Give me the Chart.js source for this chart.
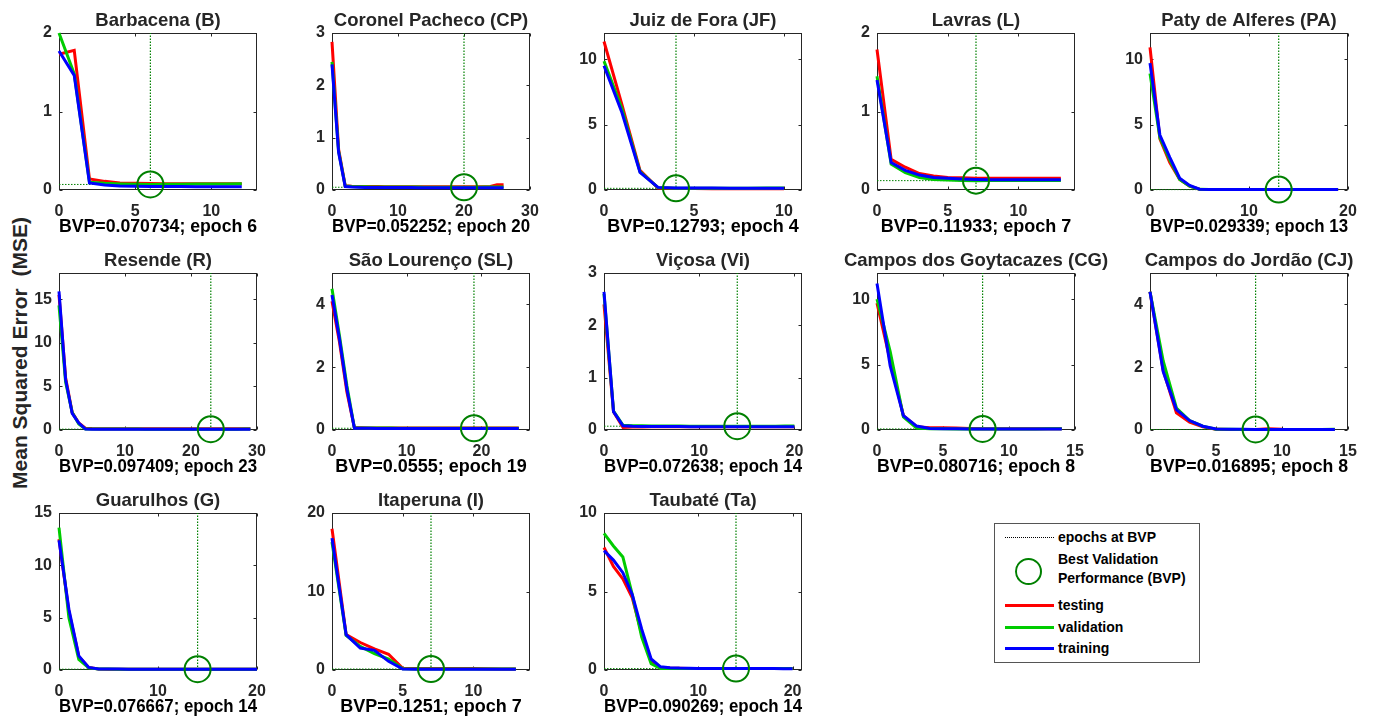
<!DOCTYPE html>
<html>
<head>
<meta charset="utf-8">
<script src="https://cdn.jsdelivr.net/npm/chart.js@4.4.1/dist/chart.umd.min.js"></script>
<style>
  body { margin: 0; width: 1373px; height: 723px; overflow: hidden; background: #fff;
         font-family: "Liberation Sans", Arial, sans-serif; font-weight: bold; position: relative; }
  canvas { position: absolute; }
  #ylab { position: absolute; left: -180px; top: 341px; width: 400px; text-align: center;
          font-size: 21px; color: #262626; transform: rotate(-90deg); white-space: pre; }
  #legend { position: absolute; left: 994px; top: 523px; width: 204px; height: 138px;
            border: 1px solid #555; background: #fff; }
  #legend .t { position: absolute; left: 63px; font-size: 14px; color: #000; line-height: 16px; white-space: nowrap; }
  #legend .ln { position: absolute; left: 10px; width: 49px; height: 0; }
  #legend .circ { position: absolute; left: 20px; top: 34px; width: 23px; height: 23px;
                  border: 2px solid #008000; border-radius: 50%; }
</style>
</head>
<body>
<div id="ylab">Mean Squared Error  (MSE)</div>
<div id="legend">
  <div class="ln" style="top:13px;border-top:1px dotted #000"></div>
  <div class="t" style="top:5px">epochs at BVP</div>
  <div class="circ"></div>
  <div class="t" style="top:27px">Best Validation</div>
  <div class="t" style="top:46px">Performance (BVP)</div>
  <div class="ln" style="top:80px;border-top:3px solid #ff0000"></div>
  <div class="t" style="top:73px">testing</div>
  <div class="ln" style="top:102px;border-top:3px solid #00cc00"></div>
  <div class="t" style="top:95px">validation</div>
  <div class="ln" style="top:123px;border-top:3px solid #0000ff"></div>
  <div class="t" style="top:116px">training</div>
</div>
<script>
// ---- data: MSE per epoch ----
const titles = ['Barbacena (B)', 'Coronel Pacheco (CP)', 'Juiz de Fora (JF)', 'Lavras (L)', 'Paty de Alferes (PA)',
  'Resende (R)', 'São Lourenço (SL)', 'Viçosa (Vi)', 'Campos dos Goytacazes (CG)', 'Campos do Jordão (CJ)',
  'Guarulhos (G)', 'Itaperuna (I)', 'Taubaté (Ta)'];
const bvpValues = [0.070734, 0.052252, 0.12793, 0.11933, 0.029339, 0.097409, 0.0555, 0.072638, 0.080716, 0.016895, 0.076667, 0.1251, 0.090269];
const bestEpochs = [6, 20, 4, 7, 13, 23, 19, 14, 8, 8, 14, 7, 14];
const xMaxes = [13, 30, 11, 14, 20, 30, 26.5, 20.8, 15, 15, 20, 14, 21];
const xSteps = [5, 10, 5, 5, 10, 10, 10, 10, 5, 5, 10, 5, 10];
const yMaxes = [2, 3, 12, 2, 12, 18, 5, 3, 12, 5, 15, 20, 10];
const ySteps = [1, 1, 5, 1, 5, 5, 2, 1, 5, 2, 5, 10, 5];

const testB = [1.73, 1.78, 0.14, 0.11, 0.09, 0.085, 0.082, 0.08, 0.08, 0.08, 0.079, 0.079, 0.079];
const valB = [2.0, 1.48, 0.1, 0.085, 0.078, 0.074, 0.0707, 0.072, 0.074, 0.076, 0.077, 0.078, 0.079];
const trainB = [1.77, 1.46, 0.09, 0.065, 0.052, 0.047, 0.045, 0.044, 0.043, 0.042, 0.042, 0.041, 0.041];

const testCP = [2.83, 0.78, 0.08, 0.07, 0.068, 0.066, 0.065, 0.065, 0.064, 0.064, 0.064, 0.063, 0.063, 0.063, 0.063, 0.062, 0.062, 0.062, 0.062, 0.062, 0.062, 0.063, 0.063, 0.064, 0.066, 0.1, 0.1];
const valCP = [2.45, 0.74, 0.075, 0.065, 0.062, 0.06, 0.059, 0.058, 0.057, 0.057, 0.056, 0.056, 0.055, 0.055, 0.054, 0.054, 0.054, 0.053, 0.053, 0.053, 0.0523, 0.053, 0.054, 0.055, 0.056, 0.057, 0.058];
const trainCP = [2.4, 0.72, 0.065, 0.056, 0.052, 0.05, 0.049, 0.048, 0.047, 0.047, 0.046, 0.046, 0.046, 0.045, 0.045, 0.045, 0.045, 0.044, 0.044, 0.044, 0.044, 0.044, 0.043, 0.043, 0.043, 0.043, 0.043];

const testJF = [11.35, 6.5, 1.5, 0.15, 0.12, 0.11, 0.1, 0.1, 0.1, 0.1, 0.1];
const valJF = [9.85, 6.2, 1.4, 0.18, 0.128, 0.13, 0.135, 0.14, 0.14, 0.145, 0.15];
const trainJF = [9.5, 5.9, 1.35, 0.2, 0.16, 0.15, 0.15, 0.14, 0.14, 0.14, 0.14];

const testL = [1.79, 0.39, 0.29, 0.21, 0.18, 0.16, 0.155, 0.15, 0.15, 0.15, 0.15, 0.15, 0.15, 0.15];
const valL = [1.45, 0.33, 0.22, 0.16, 0.135, 0.127, 0.122, 0.119, 0.12, 0.12, 0.12, 0.12, 0.121, 0.121];
const trainL = [1.4, 0.35, 0.25, 0.19, 0.16, 0.15, 0.14, 0.135, 0.132, 0.13, 0.13, 0.13, 0.13, 0.13];

const testPA = [10.9, 3.9, 2.1, 0.8, 0.3, 0.06, 0.04, 0.035, 0.033, 0.032, 0.031, 0.031, 0.03, 0.03, 0.03, 0.03, 0.03, 0.03, 0.03, 0.03];
const valPA = [8.9, 4.0, 2.3, 0.8, 0.3, 0.05, 0.04, 0.035, 0.032, 0.031, 0.03, 0.03, 0.0295, 0.0293, 0.03, 0.03, 0.031, 0.031, 0.032, 0.032];
const trainPA = [9.7, 4.2, 2.5, 0.9, 0.35, 0.06, 0.045, 0.04, 0.038, 0.037, 0.036, 0.036, 0.035, 0.035, 0.035, 0.034, 0.034, 0.034, 0.034, 0.034];

const testR = [15.5, 6.0, 2.0, 0.8, 0.2, 0.16, 0.15, 0.15, 0.15, 0.15, 0.15, 0.15, 0.15, 0.15, 0.15, 0.15, 0.15, 0.15, 0.15, 0.15, 0.15, 0.15, 0.15, 0.15, 0.15, 0.15, 0.15, 0.15, 0.15, 0.15];
const valR = [14.3, 5.5, 2.0, 0.7, 0.12, 0.11, 0.11, 0.105, 0.105, 0.104, 0.103, 0.102, 0.101, 0.1, 0.1, 0.099, 0.099, 0.098, 0.098, 0.098, 0.098, 0.098, 0.098, 0.0974, 0.098, 0.099, 0.1, 0.1, 0.101, 0.101];
const trainR = [15.9, 5.8, 1.9, 0.8, 0.1, 0.09, 0.085, 0.082, 0.08, 0.08, 0.079, 0.078, 0.078, 0.077, 0.077, 0.076, 0.076, 0.076, 0.075, 0.075, 0.075, 0.075, 0.074, 0.074, 0.074, 0.074, 0.074, 0.073, 0.073, 0.073];

const testSL = [4.1, 2.8, 1.2, 0.07, 0.068, 0.067, 0.066, 0.066, 0.065, 0.065, 0.065, 0.065, 0.064, 0.064, 0.064, 0.064, 0.064, 0.064, 0.064, 0.064, 0.064, 0.064, 0.064, 0.064, 0.064, 0.064];
const valSL = [4.5, 3.0, 1.4, 0.065, 0.063, 0.062, 0.061, 0.06, 0.06, 0.059, 0.059, 0.058, 0.058, 0.057, 0.057, 0.057, 0.056, 0.056, 0.056, 0.0555, 0.056, 0.056, 0.057, 0.057, 0.058, 0.058];
const trainSL = [4.3, 2.9, 1.3, 0.055, 0.053, 0.052, 0.051, 0.05, 0.05, 0.049, 0.049, 0.048, 0.048, 0.048, 0.047, 0.047, 0.047, 0.047, 0.046, 0.046, 0.046, 0.046, 0.046, 0.045, 0.045, 0.045];

const testVi = [2.4, 0.35, 0.05, 0.055, 0.058, 0.06, 0.06, 0.06, 0.06, 0.06, 0.06, 0.06, 0.06, 0.06, 0.06, 0.06, 0.06, 0.06, 0.06, 0.06, 0.06];
const valVi = [2.6, 0.36, 0.09, 0.082, 0.079, 0.077, 0.076, 0.075, 0.075, 0.074, 0.074, 0.073, 0.073, 0.073, 0.0726, 0.073, 0.073, 0.074, 0.074, 0.075, 0.075];
const trainVi = [2.64, 0.35, 0.08, 0.07, 0.068, 0.067, 0.066, 0.065, 0.065, 0.064, 0.064, 0.063, 0.063, 0.063, 0.062, 0.062, 0.062, 0.062, 0.061, 0.061, 0.061];

const testCG = [9.7, 5.3, 1.1, 0.25, 0.18, 0.17, 0.16, 0.12, 0.1, 0.1, 0.1, 0.1, 0.1, 0.1, 0.1];
const valCG = [10.0, 6.0, 1.0, 0.15, 0.1, 0.09, 0.085, 0.082, 0.0807, 0.082, 0.083, 0.084, 0.085, 0.086, 0.087];
const trainCG = [11.2, 4.9, 1.1, 0.3, 0.12, 0.1, 0.09, 0.085, 0.08, 0.078, 0.076, 0.075, 0.074, 0.073, 0.072];

const testCJ = [4.4, 1.9, 0.55, 0.25, 0.1, 0.02, 0.018, 0.017, 0.017, 0.04, 0.02, 0.018, 0.018, 0.018, 0.018];
const valCJ = [4.4, 2.2, 0.7, 0.3, 0.12, 0.025, 0.02, 0.018, 0.0169, 0.017, 0.018, 0.018, 0.019, 0.019, 0.02];
const trainCJ = [4.4, 1.86, 0.65, 0.3, 0.12, 0.03, 0.025, 0.02, 0.018, 0.017, 0.016, 0.016, 0.015, 0.015, 0.015];

const testG = [12.5, 5.6, 1.3, 0.25, 0.1, 0.08, 0.08, 0.08, 0.08, 0.08, 0.08, 0.08, 0.08, 0.08, 0.08, 0.08, 0.08, 0.08, 0.08, 0.08, 0.08];
const valG = [13.6, 5.0, 1.0, 0.2, 0.09, 0.085, 0.082, 0.08, 0.079, 0.078, 0.078, 0.077, 0.077, 0.077, 0.0767, 0.077, 0.077, 0.078, 0.078, 0.079, 0.079];
const trainG = [12.4, 5.8, 1.35, 0.25, 0.1, 0.09, 0.085, 0.08, 0.078, 0.076, 0.075, 0.074, 0.073, 0.072, 0.071, 0.07, 0.07, 0.069, 0.069, 0.068, 0.068];

const testI = [18.0, 4.5, 3.5, 2.7, 2.0, 0.2, 0.2, 0.2, 0.2, 0.2, 0.2, 0.15, 0.13, 0.13];
const valI = [16.3, 4.4, 3.0, 2.1, 1.4, 0.15, 0.13, 0.1251, 0.13, 0.13, 0.13, 0.135, 0.135, 0.14];
const trainI = [16.8, 4.5, 2.8, 2.5, 1.1, 0.12, 0.11, 0.1, 0.1, 0.1, 0.095, 0.095, 0.09, 0.09];

const testTa = [7.8, 6.6, 5.8, 4.6, 2.3, 0.6, 0.15, 0.12, 0.11, 0.1, 0.1, 0.1, 0.1, 0.1, 0.1, 0.1, 0.1, 0.1, 0.1, 0.1, 0.1];
const valTa = [8.7, 7.9, 7.2, 4.8, 2.1, 0.4, 0.1, 0.095, 0.093, 0.092, 0.091, 0.091, 0.09, 0.09, 0.0903, 0.091, 0.091, 0.092, 0.092, 0.093, 0.093];
const trainTa = [7.6, 7.0, 6.2, 4.8, 2.6, 0.7, 0.2, 0.15, 0.12, 0.11, 0.1, 0.1, 0.095, 0.095, 0.09, 0.09, 0.09, 0.088, 0.088, 0.087, 0.087];

const testing = [testB, testCP, testJF, testL, testPA, testR, testSL, testVi, testCG, testCJ, testG, testI, testTa];
const validation = [valB, valCP, valJF, valL, valPA, valR, valSL, valVi, valCG, valCJ, valG, valI, valTa];
const training = [trainB, trainCP, trainJF, trainL, trainPA, trainR, trainSL, trainVi, trainCG, trainCJ, trainG, trainI, trainTa];

// ---- layout ----
const colLeft = [59, 332, 604, 877, 1150];   // plot-area left edges
const rowTop = [0, 240, 480];
const AXW = 40, PLOTW = 198, CW = AXW + PLOTW + AXW, CH = 240;
const FONT = '"Liberation Sans", Arial, sans-serif';
const INK = '#262626';

// MATLAB-style box with inward ticks on all four sides
const boxPlugin = {
  id: 'box',
  beforeDatasetsDraw(chart) {
    const { ctx, chartArea: a, scales: { x, y } } = chart;
    ctx.save();
    ctx.strokeStyle = INK;
    ctx.lineWidth = 1;
    const L = Math.round(a.left) + 0.5, R = Math.round(a.right) - 0.5;
    const T = Math.round(a.top) + 0.5, B = Math.round(a.bottom) - 0.5;
    ctx.strokeRect(L, T, R - L, B - T);
    ctx.beginPath();
    x.ticks.forEach(t => {
      const px = Math.round(x.getPixelForValue(t.value)) + 0.5;
      ctx.moveTo(px, B); ctx.lineTo(px, B - 3);
      ctx.moveTo(px, T); ctx.lineTo(px, T + 3);
    });
    y.ticks.forEach(t => {
      const py = Math.round(y.getPixelForValue(t.value)) + 0.5;
      ctx.moveTo(L, py); ctx.lineTo(L + 3, py);
      ctx.moveTo(R, py); ctx.lineTo(R - 3, py);
    });
    ctx.stroke();
    ctx.restore();
  }
};

function series(arr, color) {
  return { data: arr.map((v, i) => ({ x: i, y: v })), borderColor: color, borderWidth: 3,
           pointRadius: 0, tension: 0, clip: false, fill: false };
}

titles.forEach((title, k) => {
  const c = document.createElement('canvas');
  c.width = CW; c.height = CH;
  c.style.left = (colLeft[k % 5] - AXW) + 'px';
  c.style.top = rowTop[Math.floor(k / 5)] + 'px';
  document.body.appendChild(c);

  const ep = bestEpochs[k], bvp = bvpValues[k];
  new Chart(c, {
    type: 'line',
    data: {
      datasets: [
        { data: [{ x: ep, y: bvp }], showLine: false, pointStyle: 'circle', pointRadius: 13,
          pointBorderWidth: 2, pointBorderColor: '#008000', pointBackgroundColor: 'rgba(0,0,0,0)', clip: false },
        series(training[k], '#0000ff'),
        series(validation[k], '#00cc00'),
        series(testing[k], '#ff0000'),
        { data: [{ x: 0, y: bvp }, { x: ep, y: bvp }], borderColor: '#008000', borderWidth: 1,
          borderDash: [1.5, 1.5], pointRadius: 0, clip: false },
        { data: [{ x: ep, y: 0 }, { x: ep, y: yMaxes[k] }], borderColor: '#008000', borderWidth: 1.2,
          borderDash: [1.5, 1.5], pointRadius: 0, clip: false }
      ]
    },
    options: {
      responsive: false,
      animation: false,
      devicePixelRatio: 1,
      events: [],
      layout: { padding: 0 },
      plugins: {
        legend: { display: false },
        tooltip: { enabled: false },
        title: { display: true, text: title, color: INK, font: { family: FONT, size: 18.5, weight: 'bold' },
                 padding: { top: 10, bottom: 0.8 } }
      },
      scales: {
        x: {
          type: 'linear', min: 0, max: xMaxes[k],
          afterFit(s) { s.height = 50; },
          grid: { display: false, drawTicks: false },
          border: { display: false },
          ticks: { stepSize: xSteps[k], includeBounds: false, autoSkip: false, maxRotation: 0,
                   padding: 12, color: INK, font: { family: FONT, size: 16, weight: 'bold' } },
          title: { display: true, text: 'BVP=' + bvp + '; epoch ' + ep, color: '#000',
                   font: { family: FONT, size: 18, weight: 'bold' }, padding: { top: 0, bottom: 2 } }
        },
        y: {
          min: 0, max: yMaxes[k],
          afterFit(s) { s.width = AXW; },
          grid: { display: false, drawTicks: false },
          border: { display: false },
          ticks: { stepSize: ySteps[k], includeBounds: false, padding: 7, color: INK,
                   font: { family: FONT, size: 16, weight: 'bold' } }
        },
        // empty right-hand axis so the panel title centres over the plot box
        yRight: {
          position: 'right', min: 0, max: 1,
          afterFit(s) { s.width = AXW; },
          grid: { display: false, drawTicks: false },
          border: { display: false },
          ticks: { display: false }
        }
      }
    },
    plugins: [boxPlugin]
  });
});
</script>
</body>
</html>
